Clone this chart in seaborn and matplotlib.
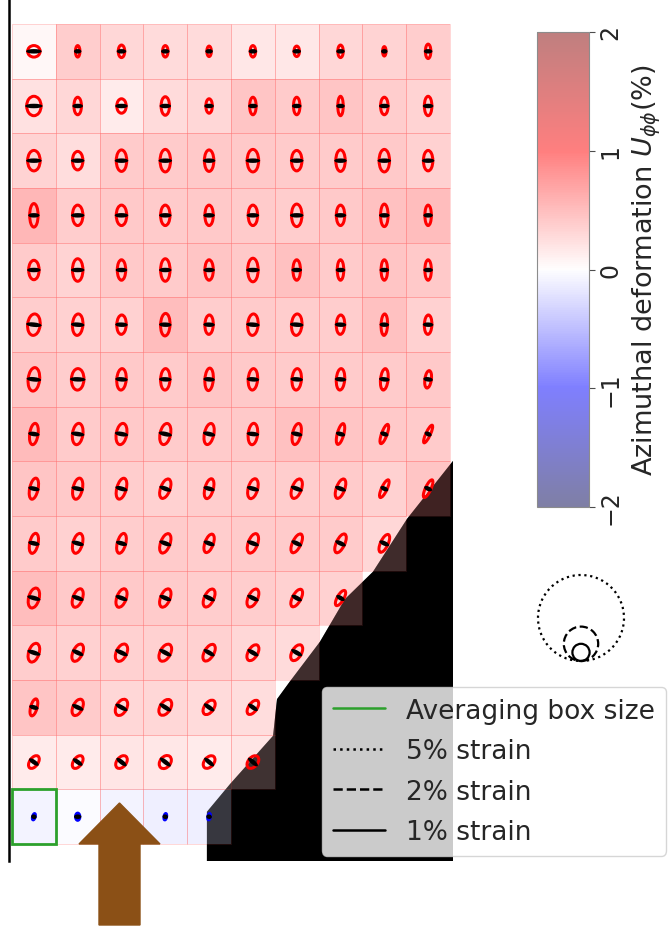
import numpy as np
import matplotlib
matplotlib.use("Agg")
import matplotlib.pyplot as plt
import seaborn as sns
from matplotlib.collections import EllipseCollection
from matplotlib.patches import Polygon, Rectangle, Circle, FancyArrow
from matplotlib.lines import Line2D

nan = np.nan

# azimuthal deformation U_phiphi (%) per averaging box, rows top -> bottom
u_phiphi = [
    [0.05, 0.38, 0.30, 0.28, 0.28, 0.18, 0.18, 0.30, 0.33, 0.38],
    [0.22, 0.30, 0.15, 0.28, 0.30, 0.45, 0.40, 0.45, 0.38, 0.33],
    [0.33, 0.25, 0.40, 0.40, 0.42, 0.42, 0.40, 0.40, 0.42, 0.35],
    [0.55, 0.38, 0.42, 0.40, 0.42, 0.40, 0.38, 0.42, 0.48, 0.50],
    [0.40, 0.33, 0.42, 0.40, 0.45, 0.42, 0.48, 0.40, 0.45, 0.42],
    [0.38, 0.35, 0.35, 0.50, 0.38, 0.40, 0.38, 0.38, 0.48, 0.35],
    [0.45, 0.38, 0.42, 0.40, 0.45, 0.42, 0.40, 0.40, 0.40, 0.42],
    [0.52, 0.40, 0.42, 0.40, 0.40, 0.42, 0.48, 0.45, 0.42, 0.40],
    [0.45, 0.42, 0.38, 0.35, 0.38, 0.38, 0.38, 0.40, 0.35, 0.45],
    [0.40, 0.35, 0.38, 0.40, 0.38, 0.40, 0.40, 0.40, 0.30, nan],
    [0.50, 0.42, 0.42, 0.40, 0.38, 0.38, 0.35, 0.35, nan, nan],
    [0.38, 0.35, 0.35, 0.35, 0.35, 0.30, 0.28, nan, nan, nan],
    [0.45, 0.40, 0.30, 0.30, 0.28, 0.25, nan, nan, nan, nan],
    [0.15, 0.15, 0.20, 0.18, 0.15, 0.20, nan, nan, nan, nan],
    [-0.08, -0.03, -0.08, -0.12, -0.12, nan, nan, nan, nan, nan],
]

# strain ellipse axes (%) : long axis, short axis, tilt of long axis (deg, clockwise)
strain_long = [
    [0.67, 0.67, 0.73, 0.67, 0.61, 0.67, 0.61, 0.73, 0.55, 0.84],
    [1.13, 1.02, 0.84, 1.08, 0.84, 1.02, 1.02, 1.13, 1.02, 1.13],
    [1.19, 1.08, 1.25, 1.31, 1.25, 1.31, 1.19, 1.25, 1.31, 1.19],
    [1.37, 1.19, 1.19, 1.19, 1.19, 1.19, 1.31, 1.19, 1.31, 1.19],
    [1.13, 1.31, 1.19, 1.31, 1.19, 1.37, 1.19, 1.19, 1.19, 1.19],
    [1.25, 1.25, 1.13, 1.31, 1.13, 1.25, 1.25, 1.13, 1.25, 1.13],
    [1.37, 1.25, 1.25, 1.25, 1.31, 1.25, 1.25, 1.25, 1.25, 1.02],
    [1.25, 1.25, 1.25, 1.25, 1.25, 1.25, 1.25, 1.25, 1.19, 1.13],
    [1.25, 1.25, 1.25, 1.19, 1.19, 1.19, 1.19, 1.19, 1.13, 1.13],
    [1.19, 1.19, 1.19, 1.19, 1.13, 1.19, 1.19, 1.19, 1.13, nan],
    [1.19, 1.13, 1.13, 1.13, 1.13, 1.13, 1.13, 1.00, nan, nan],
    [1.13, 1.08, 1.08, 1.08, 1.08, 1.02, 1.02, nan, nan, nan],
    [1.02, 1.02, 1.02, 1.02, 0.95, 0.95, nan, nan, nan, nan],
    [0.84, 0.84, 0.84, 0.84, 0.84, 0.84, nan, nan, nan, nan],
    [0.38, 0.42, 0.40, 0.38, 0.38, nan, nan, nan, nan, nan],
]
strain_short = [
    [0.73, 0.26, 0.38, 0.32, 0.26, 0.32, 0.32, 0.32, 0.20, 0.32],
    [0.84, 0.44, 0.55, 0.49, 0.38, 0.38, 0.38, 0.32, 0.44, 0.44],
    [0.73, 0.61, 0.61, 0.61, 0.55, 0.67, 0.61, 0.55, 0.61, 0.55],
    [0.49, 0.61, 0.61, 0.55, 0.49, 0.55, 0.61, 0.49, 0.44, 0.38],
    [0.61, 0.61, 0.49, 0.55, 0.49, 0.61, 0.44, 0.38, 0.38, 0.38],
    [0.73, 0.61, 0.55, 0.55, 0.49, 0.61, 0.61, 0.49, 0.38, 0.44],
    [0.67, 0.73, 0.55, 0.55, 0.49, 0.55, 0.55, 0.49, 0.44, 0.38],
    [0.49, 0.61, 0.61, 0.61, 0.55, 0.55, 0.49, 0.38, 0.32, 0.26],
    [0.49, 0.55, 0.55, 0.55, 0.49, 0.55, 0.55, 0.49, 0.32, 0.32],
    [0.49, 0.55, 0.49, 0.55, 0.49, 0.55, 0.49, 0.49, 0.44, nan],
    [0.61, 0.55, 0.55, 0.55, 0.55, 0.55, 0.49, 0.38, nan, nan],
    [0.61, 0.55, 0.61, 0.61, 0.55, 0.55, 0.55, nan, nan, nan],
    [0.38, 0.55, 0.61, 0.61, 0.55, 0.49, nan, nan, nan, nan],
    [0.49, 0.49, 0.55, 0.61, 0.55, 0.55, nan, nan, nan, nan],
    [0.15, 0.25, 0.20, 0.15, 0.15, nan, nan, nan, nan, nan],
]
strain_tilt = [
    [0, 0, 0, 0, 0, 0, 0, 0, 0, 0],
    [0, 0, 0, 0, 0, 0, 0, 0, 0, 0],
    [0, 0, 0, 0, 0, 0, 0, 0, 0, 0],
    [0, 0, 0, 0, 0, 0, 0, 0, 0, 0],
    [0, 0, 0, 0, 0, 0, 0, 0, 0, 0],
    [6, 4, 2, 2, 2, 4, 4, 2, 2, 2],
    [6, 2, 4, 2, 4, 4, 4, 4, 6, 8],
    [8, 8, 10, 12, 12, 6, 12, 15, 20, 25],
    [12, 12, 15, 20, 15, 15, 20, 20, 25, 25],
    [12, 15, 15, 20, 20, 20, 25, 25, 25, nan],
    [15, 20, 20, 22, 25, 25, 28, 30, nan, nan],
    [18, 25, 25, 28, 30, 30, 30, nan, nan, nan],
    [15, 25, 28, 32, 35, 35, nan, nan, nan, nan],
    [35, 35, 38, 38, 40, 40, nan, nan, nan, nan],
    [15, 0, 10, 10, 10, nan, nan, nan, nan, nan],
]

# outline of the region outside the sample (box units)
edge_x = [10.07, 9.02, 8.24, 7.60, 7.03, 6.35, 6.05, 5.96, 4.98, 4.45, 4.45, 10.07]
edge_y = [7.99, 9.05, 10.02, 10.52, 11.30, 12.02, 12.35, 13.02, 13.90, 14.41, 15.31, 15.31]

scale_strains = [5, 2, 1]
scale_styles = [':', '--', '-']
legend_labels = ['Averaging box size', '5% strain', '2% strain', '1% strain']

U = np.array(u_phiphi, dtype=float)
L = np.array(strain_long, dtype=float)
S = np.array(strain_short, dtype=float)
T = np.array(strain_tilt, dtype=float)

W, H = 671, 928
fig = plt.figure(figsize=(W / 100, H / 100), dpi=100)
sns.set_style('white')

ax = fig.add_axes([9 / W, 66 / H, 444 / W, 862 / H])
cax = fig.add_axes([537 / W, 420 / H, 52 / W, 475 / H])

sns.heatmap(U, ax=ax, cmap='seismic', vmin=-2, vmax=2, alpha=0.5,
            mask=np.isnan(U), xticklabels=False, yticklabels=False,
            linewidths=0, cbar_ax=cax, cbar_kws={'ticks': [-2, -1, 0, 1, 2]})

ax.set_xlim(-0.068, 10.068)
ax.set_ylim(15.31, -0.457)
ax.tick_params(length=0)
for side in ['top', 'right', 'bottom']:
    ax.spines[side].set_visible(False)
ax.spines['left'].set_visible(True)
ax.spines['left'].set_color('black')
ax.spines['left'].set_linewidth(1.8)

# faint seams between the filled boxes
rr, cc = np.where(~np.isnan(U))
for i, j in zip(rr, cc):
    ax.add_patch(Rectangle((j, i), 1, 1, fill=False, edgecolor='#ff6060',
                           linewidth=0.5, alpha=0.35, zorder=1.2))

# region outside the sample: solid black below, darkening veil above the boxes
edge = np.column_stack([edge_x, edge_y])
ax.add_patch(Polygon(edge, closed=True, facecolor='black', edgecolor='none', zorder=0.5))
ax.add_patch(Polygon(edge, closed=True, facecolor='black', edgecolor='none',
                     alpha=0.5, zorder=1.5))

# strain ellipses
px_per_pct = 17.2
cell_px = 43.8
k = px_per_pct / cell_px
lw_px = 3.0
r, c = np.where(~np.isnan(U))
offs = np.column_stack([c + 0.5, r + 0.5])
ecol = np.where(U[r, c] >= 0, 'red', 'blue')
ell = EllipseCollection(S[r, c] * k, L[r, c] * k, -T[r, c], units='x',
                        offsets=offs, offset_transform=ax.transData,
                        facecolors='none', edgecolors=ecol,
                        linewidths=lw_px * 0.72, zorder=3)
ax.add_collection(ell)
bars = EllipseCollection(S[r, c] * k + lw_px / cell_px,
                         np.full(len(r), 4.5 / cell_px), -T[r, c], units='x',
                         offsets=offs, offset_transform=ax.transData,
                         facecolors='black', edgecolors='none', zorder=3.5)
ax.add_collection(bars)

# averaging box
ax.add_patch(Rectangle((0, 14), 1, 1, fill=False, edgecolor='tab:green',
                       linewidth=2.0, zorder=4))

# colorbar
cbar = ax.collections[0].colorbar
cbar.outline.set_edgecolor('0.55')
cbar.outline.set_linewidth(0.8)
cax.tick_params(labelsize=17, length=4, width=0.8, color='0.3', pad=3)
for t in cax.get_yticklabels():
    t.set_rotation(90)
    t.set_va('center')
cbar.set_label(r'Azimuthal deformation $U_{\phi\phi}$(%)', fontsize=19.5,
               labelpad=6)

# strain scale circles
ax_s = fig.add_axes([520 / W, 248 / H, 120 / W, 120 / H])
span = 120 / px_per_pct
ax_s.set_xlim(0, span)
ax_s.set_ylim(0, span)
ax_s.set_aspect('equal')
ax_s.axis('off')
cx = 61 / px_per_pct
base = 18 / px_per_pct
for s, ls in zip(scale_strains, scale_styles):
    ax_s.add_patch(Circle((cx, base + s / 2), s / 2, fill=False,
                          edgecolor='black', linestyle=ls, linewidth=1.6))

# legend
handles = [Line2D([], [], color='tab:green', lw=1.8),
           Line2D([], [], color='black', ls=':', lw=1.8),
           Line2D([], [], color='black', ls='--', lw=1.8),
           Line2D([], [], color='black', ls='-', lw=1.8)]
fig.legend(handles, legend_labels, loc='upper left',
           bbox_to_anchor=(322 / W, 240 / H), bbox_transform=fig.transFigure,
           fontsize=19, borderaxespad=0, labelspacing=0.55, frameon=True,
           fancybox=True)

# arrow marking the averaging direction
fig.add_artist(FancyArrow(1.195, 0.02, 0, 1.22, width=0.41, head_width=0.81,
                          head_length=0.41, length_includes_head=True,
                          transform=fig.dpi_scale_trans, color='#8B5016',
                          zorder=10))

fig.savefig('out.png', dpi=100)
